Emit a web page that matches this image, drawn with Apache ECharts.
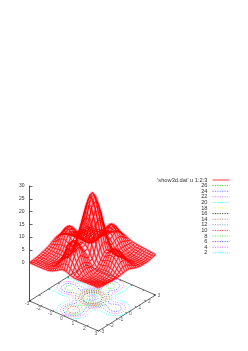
<!DOCTYPE html>
<html><head><meta charset="utf-8">
<style>html,body{margin:0;padding:0;background:#fff}#c{width:248px;height:351px;filter:blur(0.3px)}</style>
<script src="https://cdn.jsdelivr.net/npm/echarts@6/dist/echarts.min.js"></script>
</head><body><div id="c"></div>
<script>
const surfaceName = "'show3d.dat' u 1:2:3";
const contourLevels = [26,24,22,20,18,16,14,12,10,8,6,4,2];
const zTicks = [0,5,10,15,20,25,30];
const planeTicks = [-3,-2,-1,0,1,2,3];
const gridX = [-3,-2.8,-2.6,-2.4,-2.2,-2,-1.8,-1.6,-1.4,-1.2,-1,-.8,-.6,-.4,-.2,0,.2,.4,.6,.8,1,1.2,1.4,1.6,1.8,2,2.2,2.4,2.6,2.8,3];
const gridY = gridX;
// surface heights, one row per y (from -3 to 3), x from -3 to 3
const surfaceZ = [
[0,0,0,0,0,0,0,.1,.1,.4,.7,1.2,1.7,2.3,2.8,2.9,2.8,2.4,2,1.7,1.6,1.6,1.6,1.7,1.7,1.8,1.8,1.9,1.9,1.9,1.9],
[0,0,0,0,0,0,0,.1,.2,.6,1.2,1.9,2.9,3.8,4.6,4.8,4.6,3.8,2.9,1.9,1.7,1.5,1.4,1.4,1.5,1.6,1.6,1.7,1.7,1.8,1.8],
[.1,.1,0,0,0,0,.1,.2,.5,1,1.7,2.9,4.3,5.8,6.8,7.2,6.8,5.8,4.3,2.9,1.7,1.3,1.1,1,1.1,1.2,1.3,1.4,1.5,1.6,1.7],
[.2,.2,.1,.1,0,0,.1,.2,.6,1.2,2.3,3.8,5.8,7.6,9.6,10.2,9.6,7.6,5.8,3.8,2.3,1.2,.9,.8,.8,.9,1,1.1,1.2,1.4,1.6],
[.3,.3,.2,.1,0,0,.1,.4,.7,1.4,2.8,4.6,6.8,9.8,11,11.6,11,9.8,6.8,4.6,2.8,1.4,.9,.7,.6,.7,.8,.9,1,1.2,1.5],
[.5,.4,.3,.2,0,.1,.1,.4,.7,1.6,2.9,4.8,7.6,10.4,11.4,12.1,11.4,10.4,7.6,4.8,2.9,1.6,.7,.5,.5,.5,.6,.7,.8,1.1,1.5],
[.7,.6,.5,.4,.1,.1,.2,.4,.7,1.6,2.8,4.7,7.2,10,11.2,11.8,11.2,10,7.2,4.7,2.8,1.6,.7,.4,.3,.3,.4,.5,.6,.9,1.4],
[.9,.8,.7,.6,.3,.3,.3,.4,.8,1.4,2.5,4.1,6.1,8.4,10,10.6,10,8.4,6.1,4.1,2.5,1.4,.8,.4,.3,.3,.4,.5,.6,.9,1.4],
[1.1,1,.9,.9,.6,.6,.6,.6,.8,1.4,2.3,3.6,5.3,7,8.3,8.8,8.3,7,5.3,3.6,2.3,1.4,.8,.6,.5,.5,.5,.5,.5,.7,1.3],
[1.4,1.4,1.3,1.3,1.1,1.2,1.2,1.1,1.1,1.3,2,3.1,4.6,6.1,7.3,7.8,7.3,6.1,4.6,3.1,2,1.3,1,1,1,1,1,.8,.7,.8,1.3],
[1.7,1.8,1.9,2,2.1,2.2,2.1,1.9,1.8,1.8,2.9,4.2,6,7.6,8.6,9,8.6,7.6,6,4.2,2.9,1.6,1.6,1.7,1.8,1.9,1.8,1.5,1.2,1,1.3],
[2.1,2.4,2.8,3.2,3.5,3.7,3.6,3.1,2.8,2.8,4.2,6.3,9,11.3,13,13.7,13,11.3,9,6.3,4.2,2.5,2.5,2.7,3.1,3.2,3,2.6,1.9,1.4,1.4],
[2.6,3.1,3.8,4.7,5.2,5.5,5.3,4.7,4.1,4,6,9,11.9,14.8,17,17.8,17,14.8,11.9,9,6,3.6,3.7,4.1,4.6,4.8,4.6,3.8,2.9,1.9,1.5],
[3,3.8,4.9,6.1,6.9,7.4,7.1,6.2,5.4,5.3,7.6,11.3,14.8,18.5,20.9,21.9,20.9,18.5,14.8,11.3,7.6,4.9,4.9,5.5,6.2,6.4,6,5,3.8,2.6,1.5],
[3.4,4.4,5.7,7.1,8.3,8.7,8.4,7.4,6.4,6.3,8.6,13,17,20.9,23.9,25.1,23.9,20.9,17,13,8.6,5.8,5.8,6.5,7.3,7.6,7.2,6,4.6,3,1.8],
[3.6,4.6,6,7.6,8.7,9.3,8.8,7.8,6.8,6.7,9,13.7,17.8,21.9,25.1,26.3,25.1,21.9,17.8,13.7,9,6.2,6.1,6.9,7.7,8.1,7.6,6.4,4.8,3.2,1.9],
[3.4,4.4,5.7,7.1,8.3,8.7,8.4,7.4,6.4,6.3,8.6,13,17,20.9,23.9,25.1,23.9,20.9,17,13,8.6,5.8,5.8,6.5,7.3,7.6,7.2,6,4.6,3,1.8],
[3,3.8,4.9,6.1,6.9,7.4,7.1,6.2,5.4,5.3,7.6,11.3,14.8,18.5,20.9,21.9,20.9,18.5,14.8,11.3,7.6,4.9,4.9,5.5,6.2,6.4,6,5,3.8,2.6,1.5],
[2.6,3.1,3.8,4.7,5.2,5.5,5.3,4.7,4.1,4,6,9,11.9,14.8,17,17.8,17,14.8,11.9,9,6,3.6,3.7,4.1,4.6,4.8,4.6,3.8,2.9,1.9,1.1],
[2.1,2.4,2.8,3.2,3.5,3.7,3.6,3.1,2.8,2.8,4.2,6.3,9,11.3,13,13.7,13,11.3,9,6.3,4.2,2.5,2.5,2.7,3.1,3.2,3,2.6,1.9,1.3,.8],
[1.7,1.8,1.9,2,2.1,2.2,2.1,1.9,1.8,1.8,2.9,4.2,6,7.6,8.6,9,8.6,7.6,6,4.2,2.9,1.6,1.6,1.7,1.8,1.9,1.8,1.5,1.1,.8,.5],
[1.4,1.4,1.3,1.3,1.1,1.2,1.2,1.1,1.1,1.3,1.8,2.8,4,5.3,6.3,6.7,6.3,5.3,4,2.8,1.8,1.3,1,1,1,1,1,.8,.6,.4,.2],
[1.1,1,.9,.9,.6,.6,.6,.6,.8,1.1,1.7,2.8,4,5.3,6.3,6.7,6.3,5.3,4,2.8,1.7,1.1,.8,.6,.5,.5,.5,.4,.3,.2,.1],
[.9,.8,.7,.6,.3,.3,.3,.4,.6,1.1,1.9,3.1,4.7,6.2,7.4,7.8,7.4,6.2,4.7,3.1,1.9,1.1,.6,.4,.2,.2,.2,.2,.2,.1,.1],
[.7,.6,.5,.4,.1,.1,.2,.3,.6,1.2,2.1,3.6,5.3,7.1,8.4,8.8,8.4,7.1,5.3,3.6,2.1,1.2,.6,.3,.2,.1,.1,.1,.1,0,0],
[.5,.4,.3,.2,0,.1,.1,.3,.6,1.2,2.2,3.7,5.5,7.4,8.7,9.3,8.7,7.4,5.5,3.7,2.2,1.2,.6,.3,.1,.1,0,0,0,0,0],
[.3,.3,.2,.1,0,0,.1,.3,.6,1.1,2.1,3.5,5.2,6.9,8.3,8.7,8.3,6.9,5.2,3.5,2.1,1.1,.6,.3,.1,0,0,0,0,0,0],
[.1,.1,.1,.2,.2,.3,.4,.5,.9,1.3,2,3.2,4.7,6.1,7.1,7.6,7.1,6.1,4.7,3.2,2,1.3,.9,.6,.5,.4,.4,.3,.3,.2,.2],
[.1,.1,.2,.2,.3,.4,.5,.6,.9,1.3,1.9,2.8,3.8,4.9,5.7,6,5.7,4.9,3.8,2.8,1.9,1.3,1,.8,.7,.6,.6,.5,.5,.4,.4],
[.2,.2,.3,.4,.5,.6,.8,1,1.1,1.4,1.8,2.4,3.1,3.8,4.4,4.6,4.4,3.8,3.1,2.4,1.8,1.4,1.2,1.1,1,.9,.8,.8,.7,.7,.6],
[.2,.3,.4,.5,.6,.8,1,1.2,1.5,1.7,1.9,2.2,2.6,3,3.4,3.6,3.4,3,2.6,2.2,1.9,1.7,1.6,1.5,1.4,1.3,1.2,1.1,1,.9,.8]
];
const levelColors = {26:'#00c000',24:'#4a4aff',22:'#d060ff',20:'#00ffff',18:'#ffff40',16:'#000000',14:'#b07050',12:'#7090a0',10:'#e00000',8:'#30e030',6:'#3030ff',4:'#d050ff',2:'#00ffff'};

const baseZ = -15;
// viewing projection: plane units to the chart's x-axis and z-axis values
const X_PER_X = 11.5, X_PER_Y = 9.5, ORIGIN_X = 29.5;
const DOWN_PER_X = 5 / 2.556, UP_PER_Y = 6 / 2.556;
function proj(x, y, z) {
  return [ORIGIN_X + (x + 3) * X_PER_X + (y + 3) * X_PER_Y, z - (x + 3) * DOWN_PER_X + (y + 3) * UP_PER_Y];
}
const gap = [NaN, NaN];

// mesh
const mesh = [];
surfaceZ.forEach((row, j) => { row.forEach((z, i) => mesh.push(proj(gridX[i], gridY[j], z))); mesh.push(gap); });
gridX.forEach((x, i) => { gridY.forEach((y, j) => mesh.push(proj(x, y, surfaceZ[j][i]))); mesh.push(gap); });

// contour tracing over the surface grid
function contour(level) {
  const segs = [];
  const cross = (x0, y0, z0, x1, y1, z1) => { const t = (level - z0) / (z1 - z0); return [+(x0 + t * (x1 - x0)).toFixed(5), +(y0 + t * (y1 - y0)).toFixed(5)]; };
  for (let j = 0; j < gridY.length - 1; j++) for (let i = 0; i < gridX.length - 1; i++) {
    const a = surfaceZ[j][i], b = surfaceZ[j][i + 1], c = surfaceZ[j + 1][i + 1], d = surfaceZ[j + 1][i];
    const x0 = gridX[i], x1 = gridX[i + 1], y0 = gridY[j], y1 = gridY[j + 1];
    const p = [];
    if ((a < level) !== (b < level)) p.push(cross(x0, y0, a, x1, y0, b));
    if ((b < level) !== (c < level)) p.push(cross(x1, y0, b, x1, y1, c));
    if ((c < level) !== (d < level)) p.push(cross(x1, y1, c, x0, y1, d));
    if ((d < level) !== (a < level)) p.push(cross(x0, y1, d, x0, y0, a));
    if (p.length === 2) segs.push([p[0], p[1]]);
    if (p.length === 4) { segs.push([p[0], p[1]]); segs.push([p[2], p[3]]); }
  }
  const key = q => q[0] + ',' + q[1];
  const used = new Array(segs.length).fill(false);
  const byEnd = {};
  segs.forEach((s, n) => s.forEach(q => { (byEnd[key(q)] = byEnd[key(q)] || []).push(n); }));
  const out = [];
  for (let n = 0; n < segs.length; n++) {
    if (used[n]) continue;
    used[n] = true;
    const line = [segs[n][0], segs[n][1]];
    for (let grow = true; grow;) {
      grow = false;
      const end = line[line.length - 1];
      for (const m of byEnd[key(end)]) {
        if (used[m]) continue;
        used[m] = true;
        line.push(key(segs[m][0]) === key(end) ? segs[m][1] : segs[m][0]);
        grow = true;
        break;
      }
    }
    line.forEach(q => out.push(proj(q[0], q[1], baseZ)));
    out.push(gap);
  }
  return out;
}

// base frame and ticks
const frame = [proj(-3,-3,baseZ), proj(3,-3,baseZ), proj(3,3,baseZ), proj(-3,3,baseZ), proj(-3,-3,baseZ)];
const ticks = [];
planeTicks.forEach(t => {
  ticks.push(proj(t,-3,baseZ), proj(t,-2.85,baseZ), gap, proj(t,3,baseZ), proj(t,2.85,baseZ), gap);
  ticks.push(proj(3,t,baseZ), proj(2.85,t,baseZ), gap, proj(-3,t,baseZ), proj(-2.85,t,baseZ), gap);
});
const xLabels = planeTicks.map(t => ({value: proj(t,-3,baseZ), name: String(t)}));
const yLabels = planeTicks.map(t => ({value: proj(3,t,baseZ), name: String(t)}));
const labelFont = {fontFamily:'Liberation Sans', fontSize:5, color:'#333'};
const labelSeries = (data, offset) => ({type:'scatter', data, symbolSize:0, silent:true, clip:false,
  label:{show:true, position:'inside', offset, formatter:p => p.name, ...labelFont}});

const series = [
  {name:'frame', type:'line', data:frame, symbol:'none', clip:false, silent:true, lineStyle:{color:'#222', width:0.7}},
  {name:'ticks', type:'line', data:ticks, symbol:'none', clip:false, silent:true, lineStyle:{color:'#222', width:0.6}},
  labelSeries(xLabels, [-2.5,3]),
  labelSeries(yLabels, [3.5,0.5])
];
contourLevels.slice().reverse().forEach(l => series.push({name:String(l), type:'line', data:contour(l), symbol:'none', clip:false, silent:true,
  lineStyle:{color:levelColors[l], width:0.7, type:[1.2,1.2], opacity:0.85}}));
series.push({name:'surface wash', type:'line', data:mesh, symbol:'none', clip:false, silent:true, lineStyle:{color:'#ff2040', width:2.6, opacity:0.4}});
series.push({name:surfaceName, type:'line', data:mesh, symbol:'none', clip:false, silent:true, lineStyle:{color:'#ff0000', width:0.9, opacity:0.9}});

echarts.init(document.getElementById('c'), null, {renderer:'canvas'}).setOption({
  animation:false,
  backgroundColor:'#fff',
  grid:{left:29.5, top:186, width:200, height:115},
  xAxis:{type:'value', min:29.5, max:229.5, show:false},
  yAxis:{type:'value', min:baseZ, max:30, interval:5, splitLine:{show:false},
    axisLine:{show:true, onZero:false, lineStyle:{color:'#222', width:0.8}},
    axisTick:{inside:true, length:3, customValues:zTicks, lineStyle:{color:'#222', width:0.7}},
    axisLabel:{customValues:zTicks, margin:5, ...labelFont}},
  legend:{orient:'vertical', right:18, top:177, padding:0, align:'right', itemWidth:17, itemHeight:5, itemGap:-0.4,
    data:[surfaceName].concat(contourLevels.map(String)), selectedMode:false,
    itemStyle:{opacity:0}, lineStyle:{width:1, opacity:0.75},
    textStyle:{fontFamily:'Liberation Sans', fontSize:5.7, color:'#333'}},
  series
});
</script></body></html>
